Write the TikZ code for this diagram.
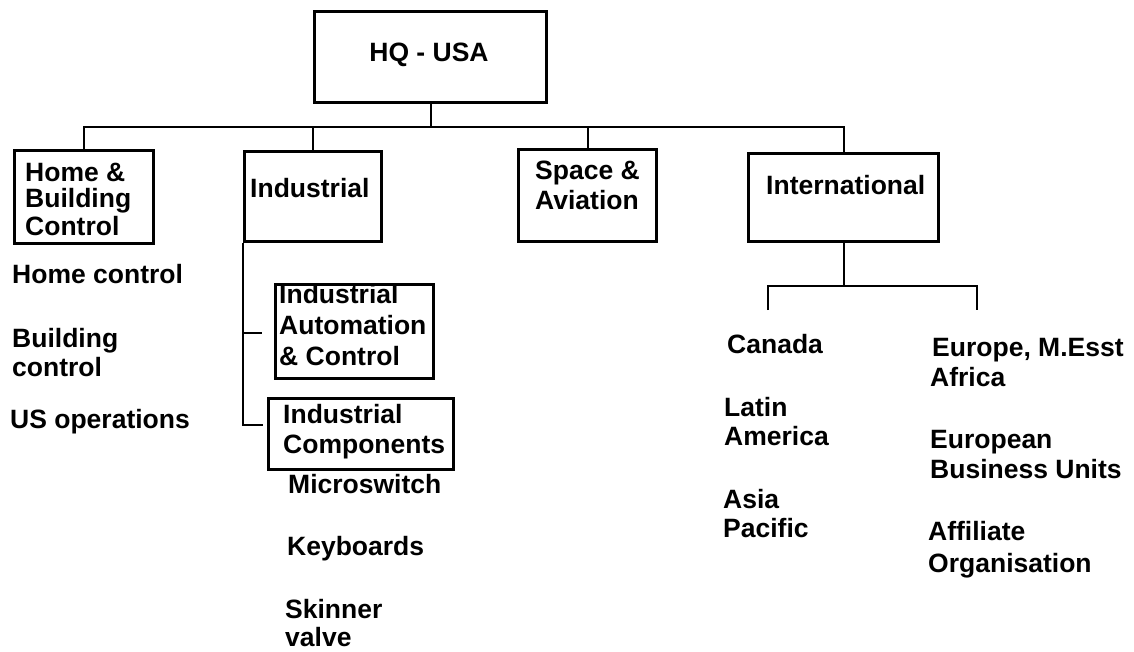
\documentclass[tikz,border=0pt]{standalone}
\usepackage{fontspec}
\setmainfont{Liberation Sans}
\begin{document}
\begin{tikzpicture}[x=1pt,y=-1pt,
  orgbox/.style={draw,line width=3pt,inner sep=0pt,anchor=north west},
  wire/.style={line width=2pt},
  lbl/.style={anchor=base west,inner sep=0pt,font=\fontsize{26.5}{29}\selectfont\bfseries},
  lblc/.style={lbl,anchor=base}]
\fill[white] (0,0) rectangle (1134,651);
\useasboundingbox (0,0) rectangle (1134,651);

% boxes
\node[orgbox,minimum width=232pt,minimum height=91pt] (hq)    at (313,10)  {};
\node[orgbox,minimum width=139pt,minimum height=93pt] (home)  at (13,149)  {};
\node[orgbox,minimum width=137pt,minimum height=90pt] (ind)   at (243,150) {};
\node[orgbox,minimum width=138pt,minimum height=92pt] (space) at (517,148) {};
\node[orgbox,minimum width=190pt,minimum height=88pt] (intl)  at (747,152) {};
\node[orgbox,minimum width=158pt,minimum height=94pt] (iac)   at (274,283) {};
\node[orgbox,minimum width=185pt,minimum height=71pt] (ic)    at (267,397) {};

% box labels
\node[lblc] (thq) at (429,61.5) {HQ - USA};
\node[lbl] (thome1) at (25,181) {Home \&};
\node[lbl] (thome2) at (25,207) {Building};
\node[lbl] (thome3) at (25,235) {Control};
\node[lbl] (tind) at (250,197) {Industrial};
\node[lbl] (tspace1) at (535,179) {Space \&};
\node[lbl] (tspace2) at (535,209) {Aviation};
\node[lbl] (tintl) at (766,194) {International};
\node[lbl] (tiac1) at (279,303) {Industrial};
\node[lbl] (tiac2) at (279,334) {Automation};
\node[lbl] (tiac3) at (279,365) {\& Control};
\node[lbl] (tic1) at (283,423) {Industrial};
\node[lbl] (tic2) at (283,453) {Components};

% free-standing unit lists
\node[lbl] (hc)  at (12,283) {Home control};
\node[lbl] (bc1) at (12,347) {Building};
\node[lbl] (bc2) at (12,376) {control};
\node[lbl] (uso) at (10,428) {US operations};

\node[lbl] (ms)  at (288,493) {Microswitch};
\node[lbl] (kb)  at (287,555) {Keyboards};
\node[lbl] (sv1) at (285,618) {Skinner};
\node[lbl] (sv2) at (285,646) {valve};

\node[lbl] (ca)  at (727,353) {Canada};
\node[lbl] (la1) at (724,416) {Latin};
\node[lbl] (la2) at (724,445) {America};
\node[lbl] (ap1) at (723,508) {Asia};
\node[lbl] (ap2) at (723,537) {Pacific};

\node[lbl] (eu1) at (932,356) {Europe, M.Esst};
\node[lbl] (eu2) at (930,386) {Africa};
\node[lbl] (eb1) at (930,448) {European};
\node[lbl] (eb2) at (930,478) {Business Units};
\node[lbl] (af1) at (928,540) {Affiliate};
\node[lbl] (af2) at (928,572) {Organisation};

% connector coordinates
\coordinate (bus)     at (0,127);
\coordinate (iacTick) at (262,333);
\coordinate (icTick)  at (263,425);
\coordinate (ibus)    at (0,286);
\coordinate (caDrop)  at (768,310);
\coordinate (euDrop)  at (977,310);

% top-level tree
\draw[wire] (hq.south) -- (hq.south |- bus);
\draw[wire] (home.north) -- (home.north |- bus) -- (intl.north |- bus) -- (intl.north);
\draw[wire] (ind.north) -- (ind.north |- bus);
\draw[wire] (space.north) -- (space.north |- bus);

% industrial branch
\draw[wire] (ind.south west) |- (icTick);
\draw[wire] (ind.south west |- iacTick) -- (iacTick);

% international branch
\draw[wire] (intl.south) -- (intl.south |- ibus);
\draw[wire] (caDrop) -- (caDrop |- ibus) -- (euDrop |- ibus) -- (euDrop);
\end{tikzpicture}
\end{document}
